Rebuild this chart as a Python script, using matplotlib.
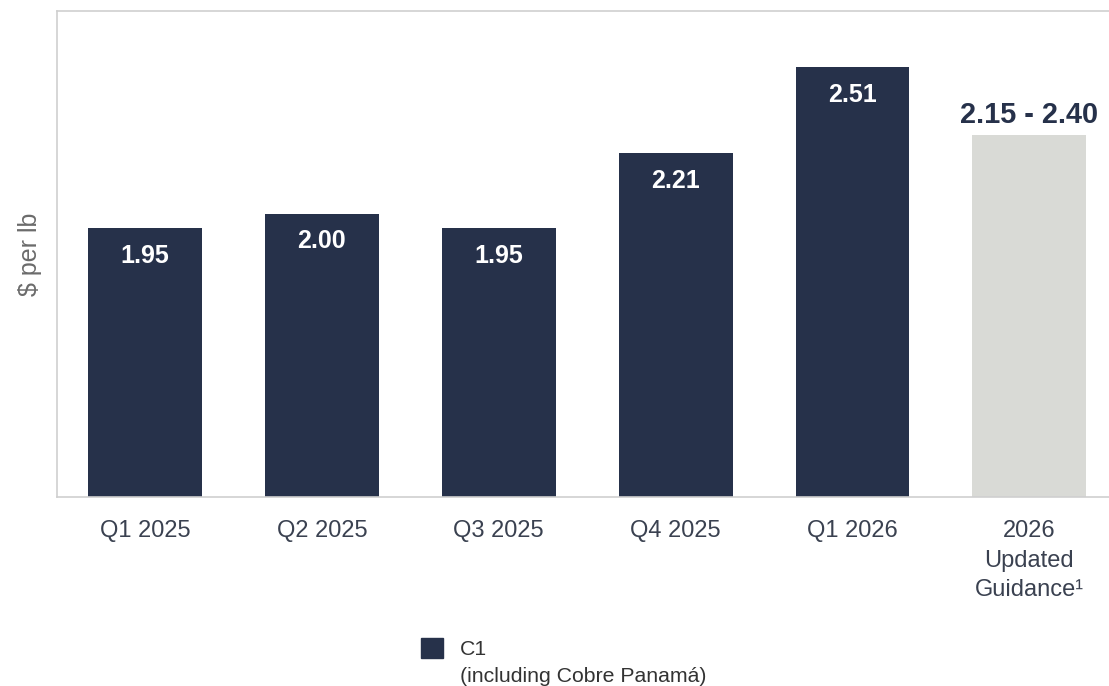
import matplotlib
matplotlib.use("Agg")
import matplotlib.pyplot as plt
from matplotlib.patches import Patch

plt.rcParams['font.family'] = ['Liberation Sans', 'DejaVu Sans']

categories = ["Q1 2025", "Q2 2025", "Q3 2025", "Q4 2025", "Q1 2026", "2026\nUpdated\nGuidance¹"]
actual_values = [1.95, 2.00, 1.95, 2.21, 2.51]
actual_labels = ["1.95", "2.00", "1.95", "2.21", "2.51"]
guidance_low = 2.15
guidance_high = 2.40
guidance_label = "2.15 - 2.40"

NAVY = "#26314A"
GREY_BAR = "#D9DAD6"
TEXT = "#3A4150"

fig = plt.figure(figsize=(11.09, 6.86), dpi=100)
ax = fig.add_axes([57/1109, 1-497/686, 1-57/1109, (497-11)/686])

x = list(range(len(categories)))
w = 0.644
bars = ax.bar(x[:5], actual_values, width=w, color=NAVY)
gmid = (guidance_low + guidance_high) / 2
gbar = ax.bar(x[5], gmid, width=w, color=GREY_BAR)

ax.set_ylim(1.014, 2.705)
ax.set_xlim(-0.497, 5.45)

for xi, v, lab in zip(x[:5], actual_values, actual_labels):
    ax.annotate(lab, (xi, v), xytext=(0, -20), textcoords="offset points",
                ha="center", va="center", color="white", fontsize=18, fontweight="bold")
ax.annotate(guidance_label, (x[5], gmid), xytext=(0, 14), textcoords="offset points",
            ha="center", va="center", color=NAVY, fontsize=20.8, fontweight="bold")

ax.set_xticks(x)
ax.set_xticklabels(categories, fontsize=17, color=TEXT, linespacing=1.45, va="top")
ax.tick_params(axis="x", length=0, pad=16.5)
ax.set_yticks([])
ax.set_ylabel("$ per lb", fontsize=18, color="#6B6B6B", labelpad=11)

for s in ["left", "top", "bottom"]:
    ax.spines[s].set_color("#CFCFCF")
    ax.spines[s].set_linewidth(1.2)
ax.spines["right"].set_visible(False)

leg = fig.legend(handles=[Patch(facecolor=NAVY, edgecolor=NAVY)], labels=["C1"],
                 loc="upper left", bbox_to_anchor=(421/1109, 1-638/686),
                 frameon=False, fontsize=15.3, handlelength=1.03, handleheight=1.1,
                 handletextpad=0.78, borderpad=0, borderaxespad=0, labelcolor="#333333")
fig.text(460/1109, 1-676/686, "(including Cobre Panamá)", fontsize=15.3, color="#333333",
         ha="left", va="center")

fig.savefig("out.png", dpi=100)
